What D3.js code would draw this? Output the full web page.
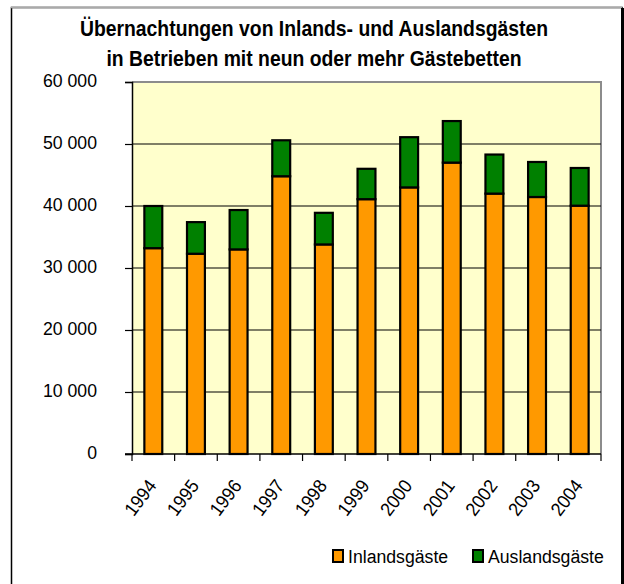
<!DOCTYPE html>
<html><head><meta charset="utf-8">
<script src="https://cdn.jsdelivr.net/npm/d3@7"></script>
<style>
html,body{margin:0;padding:0;background:#fff;}
svg{display:block;}
</style></head>
<body>
<script>
const years = ["1994","1995","1996","1997","1998","1999","2000","2001","2002","2003","2004"];
const inland = [33200,32300,33000,44800,33800,41100,43000,47000,42000,41450,40050];
const ausland = [6800,5100,6350,5800,5100,4900,8100,6700,6300,5650,6080];
const seriesNames = ["Inlandsgäste","Auslandsgäste"];
const seriesColors = ["#FF9900","#008000"];
const yTicks = [0,10000,20000,30000,40000,50000,60000];
const titleLines = ["Übernachtungen von Inlands- und Auslandsgästen","in Betrieben mit neun oder mehr Gästebetten"];

const W=624,H=584;
const font = "'Liberation Sans Narrow','Arial Narrow','Liberation Sans',Arial,sans-serif";
const svg = d3.select("body").append("svg").attr("width",W).attr("height",H);

// outer frame
svg.append("rect").attr("x",11.5).attr("y",7.5).attr("width",622-11.5).attr("height",H).attr("fill","#fff").attr("stroke","#000").attr("stroke-width",1.5);
svg.append("line").attr("x1",11).attr("x2",622).attr("y1",7.5).attr("y2",7.5).attr("stroke","#aaa").attr("stroke-width",1.5);
svg.append("line").attr("x1",622.5).attr("x2",622.5).attr("y1",8).attr("y2",H).attr("stroke","#000").attr("stroke-width",3);

const m={l:132,r:601,t:82,b:454};
const x = d3.scaleBand().domain(years).range([m.l,m.r]).paddingInner(0.58).paddingOuter(0.29);
const xb = d3.scaleBand().domain(years).range([m.l,m.r]);
const y = d3.scaleLinear().domain([0,60000]).range([m.b,m.t]);

// plot background
svg.append("rect").attr("x",m.l).attr("y",m.t).attr("width",m.r-m.l).attr("height",m.b-m.t).attr("fill","#FFFFCC");
// top/right gray border
svg.append("path").attr("d",`M${m.l},${m.t}H${m.r}V${m.b}`).attr("fill","none").attr("stroke","#8c8c8c").attr("stroke-width",2);

// gridlines
svg.append("g").selectAll("line").data(yTicks.filter(d=>d>0&&d<60000)).join("line")
  .attr("x1",m.l).attr("x2",m.r).attr("y1",d=>y(d)).attr("y2",d=>y(d)).attr("stroke","#000").attr("stroke-width",1.2);

// y axis
const yAxis = d3.axisLeft(y).tickValues(yTicks).tickSize(7).tickPadding(0)
  .tickFormat(d=>d3.format(",")(d).replace(/,/g," "));
const gy = svg.append("g").attr("transform",`translate(${m.l},0)`).call(yAxis);
gy.select(".domain").attr("stroke","#000").attr("stroke-width",1.5);
gy.selectAll(".tick line").attr("stroke","#000").attr("stroke-width",1.2);
gy.selectAll("text").attr("x",0).attr("dy","0.3em").attr("transform","translate(-35,-1) scale(0.93,1)")
  .attr("font-family",font).attr("font-size",19).attr("fill","#000");

// bars
const stackData = years.map((yr,i)=>({year:yr,Inlandsgäste:inland[i],Auslandsgäste:ausland[i]}));
const stack = d3.stack().keys(seriesNames)(stackData);
svg.append("g").selectAll("g").data(stack).join("g").attr("fill",(d,i)=>seriesColors[i])
  .selectAll("rect").data(d=>d).join("rect")
  .attr("x",d=>x(d.data.year)).attr("width",x.bandwidth())
  .attr("y",d=>y(d[1])).attr("height",d=>y(d[0])-y(d[1]))
  .attr("stroke","#000").attr("stroke-width",2.2);

// x axis
const gx = svg.append("g").attr("transform",`translate(0,${m.b})`);
gx.append("line").attr("x1",m.l-7).attr("x2",m.r).attr("y1",0).attr("y2",0).attr("stroke","#000").attr("stroke-width",1.5);
const bounds = years.map(d=>xb(d)).concat([m.r]);
gx.selectAll("line.t").data(bounds).join("line").attr("class","t")
  .attr("x1",d=>d).attr("x2",d=>d).attr("y1",0).attr("y2",7).attr("stroke","#000").attr("stroke-width",1.2);
gx.selectAll("text").data(years).join("text")
  .attr("transform",d=>`translate(${xb(d)+xb.bandwidth()/2+4},${32}) rotate(-53) scale(0.93,1)`)
  .attr("text-anchor","end").attr("font-family",font).attr("font-size",19).attr("fill","#000").text(d=>d);

// title
svg.append("g").selectAll("text").data(titleLines).join("text")
  .attr("transform",(d,i)=>`translate(314,${36+i*30}) scale(0.88,1)`).attr("text-anchor","middle")
  .attr("font-family",font).attr("font-weight","bold").attr("font-size",22).attr("fill","#000").text(d=>d);

// legend
const legX=[332,472];
const lg = svg.append("g");
seriesNames.forEach((n,i)=>{
  lg.append("rect").attr("x",legX[i]+1).attr("y",550).attr("width",10).attr("height",12)
    .attr("fill",seriesColors[i]).attr("stroke","#000").attr("stroke-width",2);
  lg.append("text").attr("transform",`translate(${legX[i]+16},563) scale(0.93,1)`).attr("font-family",font).attr("font-size",19).attr("fill","#000").text(n);
});
</script>
</body></html>
